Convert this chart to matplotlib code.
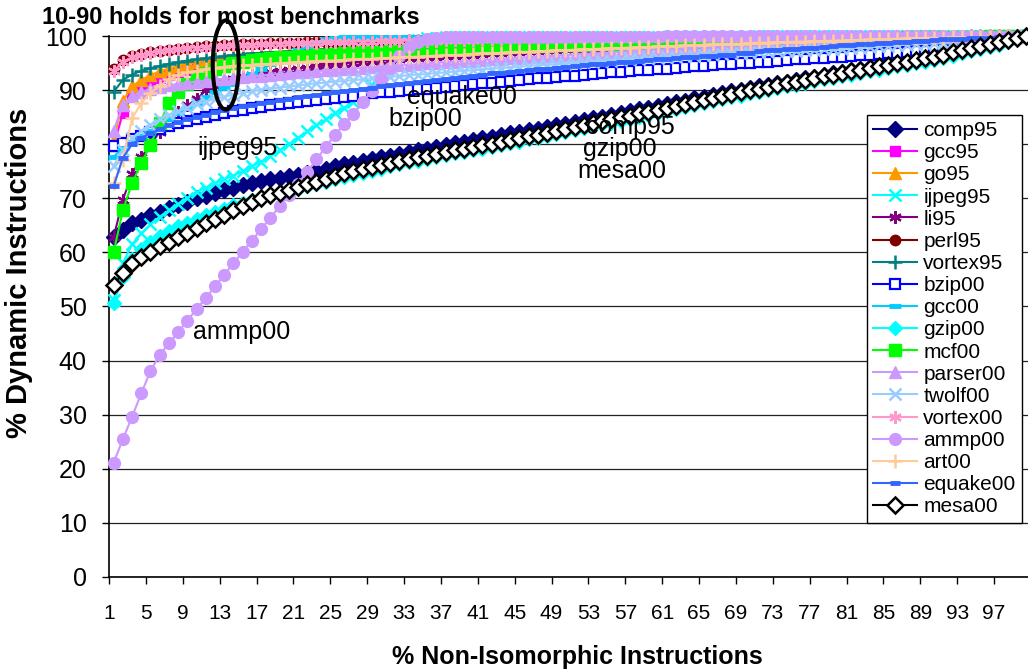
import matplotlib
matplotlib.use("Agg")
import matplotlib.pyplot as plt
from matplotlib.patches import Ellipse

plt.rcParams['font.family'] = ['Liberation Sans', 'DejaVu Sans']

x_vals = list(range(1, 101))
xtick_labels = [str(v) for v in range(1, 101, 4)]

comp95 = [62.9, 64.1, 65.4, 66.0, 66.9, 67.5, 68.2, 68.8, 69.4, 70.0,
          70.5, 71.0, 71.5, 72.0, 72.4, 72.8, 73.2, 73.5, 73.8, 74.1,
          74.4, 74.7, 75.1, 75.5, 75.9, 76.3, 76.6, 77.0, 77.3, 77.6,
          77.9, 78.2, 78.6, 78.9, 79.2, 79.5, 79.9, 80.2, 80.5, 80.8,
          81.1, 81.4, 81.7, 82.0, 82.3, 82.6, 82.9, 83.2, 83.5, 83.8,
          84.1, 84.5, 84.8, 85.1, 85.5, 85.8, 86.1, 86.5, 86.8, 87.1,
          87.5, 87.8, 88.1, 88.5, 88.8, 89.1, 89.5, 89.8, 90.1, 90.4,
          90.7, 91.0, 91.3, 91.6, 91.9, 92.2, 92.5, 92.8, 93.1, 93.4,
          93.7, 94.0, 94.3, 94.6, 94.9, 95.2, 95.5, 95.8, 96.1, 96.4,
          96.7, 97.1, 97.5, 97.9, 98.2, 98.5, 98.9, 99.3, 99.7, 100.0]

gcc95 = [79.6, 85.8, 88.9, 90.4, 91.4, 92.2, 92.9, 93.4, 93.8, 94.2,
         94.5, 94.8, 95.0, 95.2, 95.4, 95.6, 95.8, 95.9, 96.0, 96.2,
         96.3, 96.4, 96.5, 96.6, 96.7, 96.8, 96.9, 97.0, 97.1, 97.2,
         97.3, 97.3, 97.4, 97.5, 97.6, 97.6, 97.7, 97.8, 97.8, 97.9,
         98.0, 98.0, 98.1, 98.1, 98.2, 98.2, 98.3, 98.3, 98.4, 98.4,
         98.5, 98.5, 98.6, 98.6, 98.7, 98.7, 98.8, 98.8, 98.8, 98.9,
         98.9, 99.0, 99.0, 99.0, 99.1, 99.1, 99.2, 99.2, 99.2, 99.3,
         99.3, 99.3, 99.4, 99.4, 99.4, 99.5, 99.5, 99.5, 99.6, 99.6,
         99.6, 99.6, 99.7, 99.7, 99.7, 99.8, 99.8, 99.8, 99.8, 99.9,
         99.9, 99.9, 99.9, 99.9, 100.0, 100.0, 100.0, 100.0, 100.0, 100.0]

go95 = [80.8, 88.0, 90.7, 91.9, 92.8, 93.5, 94.0, 94.5, 94.9, 95.2,
        95.5, 95.7, 95.9, 96.1, 96.3, 96.4, 96.6, 96.7, 96.8, 96.9,
        97.0, 97.1, 97.2, 97.3, 97.4, 97.5, 97.5, 97.6, 97.7, 97.8,
        97.8, 97.9, 98.0, 98.0, 98.1, 98.2, 98.2, 98.3, 98.3, 98.4,
        98.4, 98.5, 98.5, 98.6, 98.6, 98.7, 98.7, 98.8, 98.8, 98.9,
        98.9, 99.0, 99.0, 99.0, 99.1, 99.1, 99.2, 99.2, 99.2, 99.3,
        99.3, 99.3, 99.4, 99.4, 99.4, 99.5, 99.5, 99.5, 99.5, 99.6,
        99.6, 99.6, 99.6, 99.7, 99.7, 99.7, 99.7, 99.8, 99.8, 99.8,
        99.8, 99.8, 99.9, 99.9, 99.9, 99.9, 99.9, 99.9, 99.9, 100.0,
        100.0, 100.0, 100.0, 100.0, 100.0, 100.0, 100.0, 100.0, 100.0, 100.0]

ijpeg95 = [51.2, 58.0, 61.5, 63.5, 65.2, 66.6, 67.8, 69.0, 70.1, 71.1,
           72.0, 72.8, 73.5, 74.2, 75.0, 75.9, 76.8, 77.8, 78.9, 80.0,
           81.2, 82.4, 83.5, 84.6, 85.7, 86.8, 87.9, 89.2, 91.0, 93.2,
           95.4, 97.3, 98.6, 99.3, 99.6, 99.7, 99.8, 99.8, 99.8, 99.9,
           99.9, 99.9, 99.9, 99.9, 99.9, 99.9, 99.9, 99.9, 99.9, 99.9,
           99.9, 99.9, 99.9, 99.9, 99.9, 99.9, 99.9, 99.9, 99.9, 99.9,
           99.9, 99.9, 99.9, 99.9, 99.9, 99.9, 99.9, 99.9, 99.9, 99.9,
           100.0, 100.0, 100.0, 100.0, 100.0, 100.0, 100.0, 100.0, 100.0, 100.0,
           100.0, 100.0, 100.0, 100.0, 100.0, 100.0, 100.0, 100.0, 100.0, 100.0,
           100.0, 100.0, 100.0, 100.0, 100.0, 100.0, 100.0, 100.0, 100.0, 100.0]

li95 = [62.8, 69.7, 74.5, 77.6, 80.0, 82.3, 84.3, 85.9, 87.2, 88.3,
        90.0, 90.8, 91.5, 92.0, 92.4, 92.8, 93.1, 93.4, 93.6, 93.8,
        94.0, 94.2, 94.4, 94.6, 94.8, 94.9, 95.1, 95.2, 95.4, 95.5,
        95.6, 95.8, 95.9, 96.0, 96.1, 96.2, 96.3, 96.4, 96.5, 96.6,
        96.7, 96.8, 96.9, 97.0, 97.1, 97.2, 97.3, 97.4, 97.5, 97.6,
        97.7, 97.7, 97.8, 97.9, 98.0, 98.0, 98.1, 98.2, 98.2, 98.3,
        98.4, 98.4, 98.5, 98.6, 98.6, 98.7, 98.7, 98.8, 98.9, 98.9,
        99.0, 99.0, 99.1, 99.1, 99.2, 99.2, 99.3, 99.3, 99.4, 99.4,
        99.5, 99.5, 99.5, 99.6, 99.6, 99.7, 99.7, 99.7, 99.8, 99.8,
        99.8, 99.9, 99.9, 99.9, 99.9, 100.0, 100.0, 100.0, 100.0, 100.0]

perl95 = [93.9, 95.6, 96.3, 96.7, 97.0, 97.3, 97.5, 97.7, 97.9, 98.0,
          98.1, 98.2, 98.3, 98.4, 98.5, 98.5, 98.6, 98.7, 98.7, 98.8,
          98.8, 98.9, 98.9, 99.0, 99.0, 99.0, 99.1, 99.1, 99.1, 99.2,
          99.2, 99.2, 99.3, 99.3, 99.3, 99.3, 99.4, 99.4, 99.4, 99.4,
          99.5, 99.5, 99.5, 99.5, 99.5, 99.6, 99.6, 99.6, 99.6, 99.6,
          99.6, 99.7, 99.7, 99.7, 99.7, 99.7, 99.7, 99.7, 99.8, 99.8,
          99.8, 99.8, 99.8, 99.8, 99.8, 99.8, 99.8, 99.8, 99.8, 99.8,
          99.8, 99.8, 99.9, 99.9, 99.9, 99.9, 99.9, 99.9, 99.9, 99.9,
          99.9, 99.9, 99.9, 99.9, 99.9, 99.9, 99.9, 99.9, 99.9, 99.9,
          100.0, 100.0, 100.0, 100.0, 100.0, 100.0, 100.0, 100.0, 100.0, 100.0]

vortex95 = [89.7, 91.9, 92.9, 93.6, 94.1, 94.5, 94.9, 95.2, 95.5, 95.7,
            95.9, 96.1, 96.3, 96.5, 96.6, 96.8, 96.9, 97.0, 97.1, 97.2,
            97.3, 97.4, 97.5, 97.6, 97.7, 97.8, 97.8, 97.9, 98.0, 98.0,
            98.1, 98.2, 98.2, 98.3, 98.3, 98.4, 98.4, 98.5, 98.5, 98.6,
            98.6, 98.7, 98.7, 98.7, 98.8, 98.8, 98.9, 98.9, 98.9, 99.0,
            99.0, 99.0, 99.1, 99.1, 99.1, 99.2, 99.2, 99.2, 99.2, 99.3,
            99.3, 99.3, 99.3, 99.4, 99.4, 99.4, 99.4, 99.5, 99.5, 99.5,
            99.5, 99.5, 99.6, 99.6, 99.6, 99.6, 99.7, 99.7, 99.7, 99.7,
            99.7, 99.8, 99.8, 99.8, 99.8, 99.8, 99.9, 99.9, 99.9, 99.9,
            99.9, 99.9, 99.9, 100.0, 100.0, 100.0, 100.0, 100.0, 100.0, 100.0]

bzip00 = [79.6, 80.3, 81.0, 81.6, 82.2, 82.8, 83.4, 83.9, 84.3, 84.7,
          85.1, 85.5, 85.8, 86.1, 86.4, 86.7, 86.9, 87.2, 87.4, 87.6,
          87.8, 88.0, 88.2, 88.4, 88.6, 88.8, 89.0, 89.2, 89.4, 89.6,
          89.7, 89.9, 90.0, 90.2, 90.3, 90.5, 90.6, 90.8, 91.0, 91.1,
          91.3, 91.4, 91.6, 91.7, 91.9, 92.0, 92.2, 92.3, 92.5, 92.6,
          92.7, 92.9, 93.0, 93.1, 93.3, 93.4, 93.5, 93.7, 93.8, 93.9,
          94.0, 94.2, 94.3, 94.4, 94.5, 94.6, 94.8, 94.9, 95.0, 95.1,
          95.2, 95.3, 95.5, 95.6, 95.7, 95.8, 95.9, 96.0, 96.1, 96.2,
          96.4, 96.5, 96.6, 96.7, 96.8, 96.9, 97.0, 97.2, 97.3, 97.4,
          97.6, 97.8, 98.0, 98.2, 98.5, 98.8, 99.1, 99.4, 99.7, 100.0]

gcc00 = [77.7, 79.3, 80.4, 81.5, 82.5, 83.6, 84.6, 85.7, 86.7, 87.7,
         88.7, 89.6, 90.4, 91.2, 92.1, 93.0, 93.9, 94.8, 95.7, 96.6,
         97.4, 98.2, 98.9, 99.4, 99.7, 99.8, 99.8, 99.9, 99.9, 99.9,
         99.9, 99.9, 99.9, 99.9, 99.9, 99.9, 99.9, 99.9, 99.9, 99.9,
         99.9, 99.9, 99.9, 99.9, 99.9, 99.9, 99.9, 99.9, 99.9, 99.9,
         100.0, 100.0, 100.0, 100.0, 100.0, 100.0, 100.0, 100.0, 100.0, 100.0,
         100.0, 100.0, 100.0, 100.0, 100.0, 100.0, 100.0, 100.0, 100.0, 100.0,
         100.0, 100.0, 100.0, 100.0, 100.0, 100.0, 100.0, 100.0, 100.0, 100.0,
         100.0, 100.0, 100.0, 100.0, 100.0, 100.0, 100.0, 100.0, 100.0, 100.0,
         100.0, 100.0, 100.0, 100.0, 100.0, 100.0, 100.0, 100.0, 100.0, 100.0]

gzip00 = [50.6, 55.5, 58.8, 60.6, 62.0, 63.1, 64.0, 64.8, 65.5, 66.2,
          66.9, 67.5, 68.1, 68.7, 69.2, 69.7, 70.2, 70.6, 71.0, 71.4,
          71.8, 72.2, 72.6, 73.0, 73.5, 73.9, 74.3, 74.7, 75.1, 75.5,
          75.9, 76.3, 76.7, 77.0, 77.3, 77.6, 78.0, 78.3, 78.6, 78.9,
          79.2, 79.5, 79.9, 80.2, 80.5, 80.9, 81.2, 81.5, 81.9, 82.2,
          82.6, 83.0, 83.3, 83.7, 84.0, 84.4, 84.7, 85.1, 85.4, 85.8,
          86.2, 86.5, 86.9, 87.2, 87.6, 88.0, 88.3, 88.7, 89.0, 89.4,
          89.7, 90.0, 90.4, 90.7, 91.0, 91.3, 91.7, 92.0, 92.3, 92.6,
          92.9, 93.2, 93.5, 93.8, 94.1, 94.4, 94.7, 95.0, 95.3, 95.6,
          96.0, 96.4, 96.8, 97.2, 97.6, 98.0, 98.4, 98.9, 99.4, 100.0]

mcf00 = [60.0, 67.8, 72.8, 76.5, 79.9, 83.9, 87.6, 89.6, 91.1, 92.3,
         93.2, 93.9, 94.5, 95.0, 95.3, 95.6, 95.8, 96.0, 96.1, 96.2,
         96.3, 96.4, 96.5, 96.6, 96.7, 96.8, 96.9, 97.0, 97.0, 97.1,
         97.2, 97.3, 97.3, 97.4, 97.5, 97.5, 97.6, 97.7, 97.7, 97.8,
         97.9, 97.9, 98.0, 98.0, 98.1, 98.1, 98.2, 98.2, 98.3, 98.3,
         98.4, 98.4, 98.5, 98.5, 98.6, 98.6, 98.7, 98.7, 98.8, 98.8,
         98.9, 98.9, 98.9, 99.0, 99.0, 99.1, 99.1, 99.1, 99.2, 99.2,
         99.2, 99.3, 99.3, 99.3, 99.4, 99.4, 99.4, 99.5, 99.5, 99.5,
         99.6, 99.6, 99.6, 99.7, 99.7, 99.7, 99.8, 99.8, 99.8, 99.8,
         99.9, 99.9, 99.9, 99.9, 99.9, 100.0, 100.0, 100.0, 100.0, 100.0]

parser00 = [82.5, 87.3, 88.9, 89.7, 90.2, 90.6, 90.9, 91.2, 91.4, 91.6,
            91.8, 92.0, 92.1, 92.3, 92.4, 92.6, 92.7, 92.9, 93.0, 93.1,
            93.3, 93.4, 93.5, 93.7, 93.8, 93.9, 94.0, 94.2, 94.3, 94.4,
            94.5, 94.6, 94.7, 94.8, 95.0, 95.1, 95.2, 95.3, 95.4, 95.5,
            95.6, 95.7, 95.8, 95.9, 96.0, 96.1, 96.2, 96.3, 96.4, 96.5,
            96.6, 96.7, 96.8, 96.9, 97.0, 97.1, 97.2, 97.3, 97.4, 97.5,
            97.6, 97.7, 97.8, 97.9, 98.0, 98.1, 98.2, 98.3, 98.4, 98.5,
            98.6, 98.7, 98.8, 98.9, 99.0, 99.1, 99.2, 99.3, 99.4, 99.5,
            99.5, 99.6, 99.6, 99.7, 99.7, 99.8, 99.8, 99.8, 99.9, 99.9,
            99.9, 99.9, 99.9, 100.0, 100.0, 100.0, 100.0, 100.0, 100.0, 100.0]

twolf00 = [76.0, 79.0, 81.2, 82.4, 83.6, 84.6, 85.4, 86.1, 86.8, 87.4,
           87.9, 88.4, 88.8, 89.2, 89.5, 89.8, 90.1, 90.3, 90.5, 90.7,
           90.9, 91.1, 91.3, 91.4, 91.6, 91.7, 91.9, 92.0, 92.2, 92.3,
           92.5, 92.6, 92.8, 92.9, 93.0, 93.2, 93.3, 93.4, 93.6, 93.7,
           93.8, 94.0, 94.1, 94.2, 94.3, 94.5, 94.6, 94.7, 94.8, 94.9,
           95.0, 95.2, 95.3, 95.4, 95.5, 95.6, 95.7, 95.8, 95.9, 96.0,
           96.1, 96.2, 96.3, 96.4, 96.5, 96.6, 96.7, 96.8, 96.9, 96.9,
           97.0, 97.1, 97.2, 97.3, 97.3, 97.4, 97.5, 97.6, 97.6, 97.7,
           97.8, 97.9, 98.0, 98.1, 98.2, 98.3, 98.4, 98.5, 98.6, 98.7,
           98.8, 98.9, 99.0, 99.1, 99.3, 99.4, 99.6, 99.7, 99.9, 100.0]

vortex00 = [93.5, 95.3, 96.1, 96.5, 96.9, 97.2, 97.4, 97.6, 97.8, 97.9,
            98.0, 98.1, 98.2, 98.3, 98.4, 98.4, 98.5, 98.6, 98.6, 98.7,
            98.7, 98.8, 98.8, 98.9, 98.9, 98.9, 99.0, 99.0, 99.0, 99.1,
            99.1, 99.1, 99.2, 99.2, 99.2, 99.2, 99.3, 99.3, 99.3, 99.3,
            99.4, 99.4, 99.4, 99.4, 99.4, 99.5, 99.5, 99.5, 99.5, 99.5,
            99.5, 99.6, 99.6, 99.6, 99.6, 99.6, 99.6, 99.6, 99.7, 99.7,
            99.7, 99.7, 99.7, 99.7, 99.7, 99.7, 99.7, 99.7, 99.7, 99.7,
            99.7, 99.7, 99.8, 99.8, 99.8, 99.8, 99.8, 99.8, 99.8, 99.8,
            99.8, 99.8, 99.8, 99.9, 99.9, 99.9, 99.9, 99.9, 99.9, 99.9,
            99.9, 99.9, 99.9, 99.9, 100.0, 100.0, 100.0, 100.0, 100.0, 100.0]

ammp00 = [21.1, 25.4, 29.6, 33.9, 38.1, 41.0, 43.2, 45.2, 47.4, 49.5,
          51.6, 53.7, 55.9, 58.0, 60.1, 62.2, 64.3, 66.4, 68.5, 70.6,
          72.7, 74.9, 77.2, 79.5, 81.7, 83.7, 85.6, 87.8, 89.9, 92.0,
          94.2, 96.3, 98.0, 99.0, 99.5, 99.7, 99.8, 99.8, 99.8, 99.9,
          99.9, 99.9, 99.9, 99.9, 99.9, 99.9, 99.9, 99.9, 99.9, 99.9,
          99.9, 99.9, 99.9, 99.9, 99.9, 99.9, 99.9, 99.9, 99.9, 99.9,
          100.0, 100.0, 100.0, 100.0, 100.0, 100.0, 100.0, 100.0, 100.0, 100.0,
          100.0, 100.0, 100.0, 100.0, 100.0, 100.0, 100.0, 100.0, 100.0, 100.0,
          100.0, 100.0, 100.0, 100.0, 100.0, 100.0, 100.0, 100.0, 100.0, 100.0,
          100.0, 100.0, 100.0, 100.0, 100.0, 100.0, 100.0, 100.0, 100.0, 100.0]

art00 = [72.8, 77.1, 84.8, 87.6, 89.5, 90.8, 92.0, 92.8, 93.3, 93.6,
         93.9, 94.1, 94.3, 94.5, 94.6, 94.7, 94.8, 94.9, 95.0, 95.1,
         95.2, 95.3, 95.4, 95.5, 95.5, 95.6, 95.7, 95.8, 95.8, 95.9,
         96.0, 96.1, 96.2, 96.2, 96.3, 96.4, 96.5, 96.5, 96.6, 96.7,
         96.8, 96.8, 96.9, 97.0, 97.1, 97.1, 97.2, 97.3, 97.4, 97.4,
         97.5, 97.6, 97.6, 97.7, 97.8, 97.8, 97.9, 98.0, 98.0, 98.1,
         98.2, 98.2, 98.3, 98.3, 98.4, 98.5, 98.5, 98.6, 98.6, 98.7,
         98.8, 98.8, 98.9, 98.9, 99.0, 99.0, 99.1, 99.1, 99.2, 99.2,
         99.3, 99.3, 99.4, 99.4, 99.5, 99.5, 99.6, 99.6, 99.7, 99.7,
         99.7, 99.8, 99.8, 99.8, 99.9, 99.9, 99.9, 100.0, 100.0, 100.0]

equake00 = [72.2, 77.5, 80.0, 81.2, 82.0, 82.8, 83.5, 84.1, 84.6, 85.1,
             85.5, 85.9, 86.3, 86.7, 87.0, 87.3, 87.6, 87.9, 88.2, 88.4,
             88.7, 88.9, 89.1, 89.4, 89.6, 89.8, 90.1, 90.3, 90.5, 90.7,
             90.9, 91.1, 91.3, 91.5, 91.7, 91.9, 92.1, 92.3, 92.5, 92.7,
             92.9, 93.1, 93.2, 93.4, 93.6, 93.7, 93.9, 94.0, 94.2, 94.3,
             94.5, 94.6, 94.8, 94.9, 95.0, 95.2, 95.3, 95.4, 95.6, 95.7,
             95.8, 95.9, 96.1, 96.2, 96.3, 96.4, 96.5, 96.6, 96.8, 96.9,
             97.3, 97.4, 97.5, 97.6, 97.7, 97.8, 97.9, 98.0, 98.1, 98.3,
             98.4, 98.5, 98.6, 98.7, 98.8, 98.9, 99.0, 99.1, 99.2, 99.3,
             99.4, 99.4, 99.5, 99.6, 99.7, 99.7, 99.8, 99.9, 99.9, 100.0]

mesa00 = [54.0, 56.1, 58.0, 59.2, 60.1, 61.1, 62.0, 62.9, 63.6, 64.5,
          65.4, 66.1, 66.9, 67.8, 68.6, 69.4, 70.0, 70.6, 71.0, 71.5,
          72.1, 72.6, 73.1, 73.6, 74.1, 74.6, 75.0, 75.4, 75.8, 76.2,
          76.6, 77.0, 77.3, 77.6, 77.9, 78.2, 78.6, 78.9, 79.2, 79.5,
          79.8, 80.1, 80.5, 80.8, 81.1, 81.5, 81.8, 82.1, 82.5, 82.8,
          83.2, 83.6, 83.9, 84.3, 84.6, 85.0, 85.3, 85.7, 86.0, 86.4,
          86.8, 87.1, 87.5, 87.8, 88.2, 88.6, 88.9, 89.3, 89.6, 90.0,
          90.3, 90.6, 91.0, 91.3, 91.6, 91.9, 92.3, 92.6, 92.9, 93.2,
          93.5, 93.8, 94.1, 94.4, 94.7, 95.0, 95.3, 95.6, 95.9, 96.2,
          96.6, 97.0, 97.4, 97.8, 98.2, 98.5, 98.9, 99.3, 99.7, 100.0]

series_names = ['comp95', 'gcc95', 'go95', 'ijpeg95', 'li95', 'perl95', 'vortex95',
                'bzip00', 'gcc00', 'gzip00', 'mcf00', 'parser00', 'twolf00',
                'vortex00', 'ammp00', 'art00', 'equake00', 'mesa00']
series_values = [comp95, gcc95, go95, ijpeg95, li95, perl95, vortex95,
                 bzip00, gcc00, gzip00, mcf00, parser00, twolf00,
                 vortex00, ammp00, art00, equake00, mesa00]

annotations = [('ijpeg95', 14.4, 79.4), ('equake00', 38.8, 88.8), ('bzip00', 34.8, 84.6),
               ('comp95', 57.0, 83.2), ('gzip00', 55.9, 79.1), ('mesa00', 56.1, 75.0),
               ('ammp00', 14.9, 45.2)]

ASTER = (6, 2, 0)
styles = {
    'comp95':   dict(color='#000080', marker='D', ms=8, mfc='#000080', mew=1),
    'gcc95':    dict(color='#FF00FF', marker='s', ms=7.5, mfc='#FF00FF', mew=1),
    'go95':     dict(color='#FF9900', marker='^', ms=8.5, mfc='#FF9900', mew=1),
    'ijpeg95':  dict(color='#00FFFF', marker='x', ms=8, mew=1.8),
    'li95':     dict(color='#800080', marker=ASTER, ms=9, mew=1.6),
    'perl95':   dict(color='#800000', marker='o', ms=7.5, mfc='#800000', mew=1),
    'vortex95': dict(color='#008080', marker='+', ms=10, mew=1.8),
    'bzip00':   dict(color='#0000FF', marker='s', ms=7, mfc='white', mew=1.6),
    'gcc00':    dict(color='#00CCFF', marker='_', ms=8, mew=3.5),
    'gzip00':   dict(color='#00FFFF', marker='D', ms=7.5, mfc='#00FFFF', mew=1),
    'mcf00':    dict(color='#00FF00', marker='s', ms=8, mfc='#00FF00', mew=1),
    'parser00': dict(color='#CC99FF', marker='^', ms=8.5, mfc='#CC99FF', mew=1),
    'twolf00':  dict(color='#99CCFF', marker='x', ms=8, mew=1.8),
    'vortex00': dict(color='#FF99CC', marker=ASTER, ms=9, mew=1.6),
    'ammp00':   dict(color='#CC99FF', marker='o', ms=8.5, mfc='#CC99FF', mew=1),
    'art00':    dict(color='#FFCC99', marker='+', ms=10, mew=1.8),
    'equake00': dict(color='#3366FF', marker='_', ms=7, mew=3.5),
    'mesa00':   dict(color='#000000', marker='D', ms=8, mfc='white', mew=1.8),
}

fig = plt.figure(figsize=(10.28, 6.72), dpi=100)
W, H = 1028.0, 672.0
ax = fig.add_axes([109 / W, (H - 576.7) / H, (1031 - 109) / W, (576.7 - 36.2) / H])

for i, (name, vals) in enumerate(zip(series_names, series_values)):
    st = dict(styles[name])
    color = st.pop('color')
    ax.plot(x_vals, vals, color=color, lw=1.5, mec=color, label=name,
            clip_on=False, zorder=3 + i * 0.01, **st)

ax.set_xlim(0.5, 100.5)
ax.set_ylim(0, 100)
ax.set_yticks(range(0, 101, 10))
ax.set_xticks([0.5 + 4 * k for k in range(len(xtick_labels))])
ax.set_xticklabels(xtick_labels)
ax.tick_params(axis='x', direction='out', length=5, width=1, pad=15, labelsize=15)
ax.tick_params(axis='y', direction='out', length=5, width=1, pad=11, labelsize=18)
ax.yaxis.grid(True, color='#222222', lw=0.9)
ax.set_axisbelow(True)
for s in ['top', 'right']:
    ax.spines[s].set_visible(False)
for s in ['left', 'bottom']:
    ax.spines[s].set_linewidth(1.2)
    ax.spines[s].set_color('black')

for txt, cx, cy in annotations:
    ax.text(cx, cy, txt, ha='center', va='center', fontsize=18, zorder=10)

ell = Ellipse((13.16, 94.67), width=2.82, height=16.5, fill=False,
              edgecolor='black', lw=2.9, clip_on=False, zorder=12)
ax.add_patch(ell)

fig.text(42 / W, 1 - 17 / H, '10-90 holds for most benchmarks', ha='left', va='center',
         fontsize=17, fontweight='bold')
fig.text(577 / W, 1 - 657 / H, '% Non-Isomorphic Instructions', ha='center', va='center',
         fontsize=18, fontweight='bold')
fig.text(19 / W, 1 - 273 / H, '% Dynamic Instructions', ha='center', va='center',
         fontsize=21, fontweight='bold', rotation=90)

leg = ax.legend(loc='upper left', bbox_to_anchor=(867 / W, 1 - 115 / H),
                bbox_transform=fig.transFigure, borderaxespad=0, fontsize=15,
                handlelength=2.1, handletextpad=0.3, labelspacing=0.15,
                borderpad=0.3, fancybox=False, framealpha=1, edgecolor='black')
leg.get_frame().set_linewidth(1.0)
leg.set_zorder(20)

fig.savefig('out.png', dpi=100)
